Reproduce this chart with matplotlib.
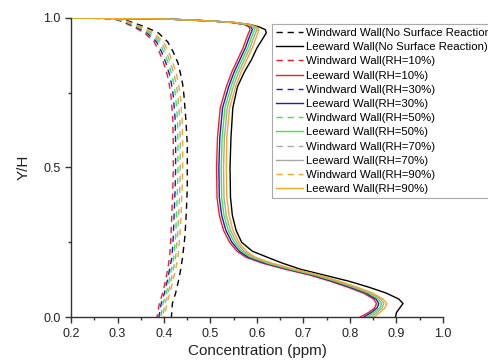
import numpy as np
import matplotlib.pyplot as plt
from matplotlib.ticker import MultipleLocator

plt.rcParams['font.family'] = ['Liberation Sans', 'DejaVu Sans']

# Y/H levels
y_lee = [1.0, 0.997, 0.99, 0.985, 0.978, 0.97, 0.961, 0.95, 0.93, 0.90, 0.86, 0.82,
         0.77, 0.70, 0.60, 0.50, 0.40, 0.34, 0.29, 0.25, 0.22, 0.20, 0.18, 0.16,
         0.14, 0.12, 0.10, 0.08, 0.06, 0.045, 0.03, 0.015, 0.0]
y_win = [1.0, 0.998, 0.989, 0.97, 0.95, 0.92, 0.886, 0.85, 0.81, 0.78, 0.74, 0.70,
         0.66, 0.58, 0.50, 0.43, 0.35, 0.27, 0.20, 0.16, 0.12, 0.08, 0.045, 0.0]

# concentration (ppm), windward walls
win_none = [0.2, 0.30, 0.325, 0.360, 0.388, 0.408, 0.420, 0.430, 0.436, 0.440, 0.443, 0.445,
            0.447, 0.450, 0.450, 0.450, 0.448, 0.445, 0.440, 0.436, 0.431, 0.425, 0.418, 0.416]
win_rh10 = [0.2, 0.290, 0.308, 0.335, 0.358, 0.379, 0.390, 0.399, 0.407, 0.411, 0.415, 0.417,
            0.419, 0.420, 0.420, 0.419, 0.417, 0.415, 0.412, 0.408, 0.403, 0.397, 0.390, 0.385]
win_rh30 = [0.2, 0.292, 0.311, 0.339, 0.363, 0.384, 0.395, 0.404, 0.412, 0.416, 0.420, 0.422,
            0.424, 0.425, 0.425, 0.424, 0.422, 0.420, 0.417, 0.412, 0.407, 0.401, 0.394, 0.389]
win_rh50 = [0.2, 0.294, 0.314, 0.343, 0.368, 0.389, 0.400, 0.409, 0.417, 0.421, 0.425, 0.427,
            0.429, 0.430, 0.430, 0.429, 0.427, 0.425, 0.421, 0.416, 0.411, 0.405, 0.398, 0.393]
win_rh70 = [0.2, 0.296, 0.317, 0.347, 0.373, 0.394, 0.405, 0.414, 0.422, 0.426, 0.430, 0.432,
            0.434, 0.435, 0.435, 0.434, 0.432, 0.429, 0.425, 0.420, 0.415, 0.409, 0.402, 0.397]
win_rh90 = [0.2, 0.298, 0.320, 0.351, 0.378, 0.399, 0.410, 0.419, 0.427, 0.431, 0.435, 0.437,
            0.439, 0.440, 0.440, 0.439, 0.437, 0.434, 0.430, 0.425, 0.419, 0.413, 0.406, 0.401]

# concentration (ppm), leeward walls
lee_none = [0.2, 0.40, 0.50, 0.550, 0.585, 0.605, 0.618, 0.620, 0.612, 0.600, 0.588, 0.573,
            0.558, 0.548, 0.544, 0.542, 0.543, 0.547, 0.555, 0.567, 0.590, 0.622, 0.655, 0.693,
            0.745, 0.797, 0.840, 0.878, 0.905, 0.914, 0.907, 0.900, 0.898]
lee_rh10 = [0.2, 0.40, 0.50, 0.545, 0.573, 0.583, 0.585, 0.582, 0.577, 0.570, 0.558, 0.546,
            0.534, 0.521, 0.515, 0.513, 0.514, 0.519, 0.528, 0.541, 0.557, 0.576, 0.612, 0.660,
            0.714, 0.757, 0.795, 0.829, 0.851, 0.857, 0.853, 0.840, 0.822]
lee_rh30 = [0.2, 0.40, 0.50, 0.547, 0.576, 0.587, 0.590, 0.587, 0.582, 0.575, 0.563, 0.551,
            0.539, 0.526, 0.520, 0.518, 0.519, 0.524, 0.533, 0.546, 0.562, 0.581, 0.617, 0.665,
            0.719, 0.762, 0.800, 0.834, 0.856, 0.862, 0.858, 0.846, 0.830]
lee_rh50 = [0.2, 0.40, 0.50, 0.549, 0.579, 0.591, 0.595, 0.592, 0.587, 0.580, 0.568, 0.556,
            0.544, 0.531, 0.525, 0.523, 0.524, 0.529, 0.538, 0.551, 0.567, 0.586, 0.622, 0.670,
            0.724, 0.767, 0.805, 0.839, 0.861, 0.868, 0.864, 0.852, 0.838]
lee_rh70 = [0.2, 0.40, 0.50, 0.551, 0.582, 0.595, 0.600, 0.597, 0.592, 0.585, 0.573, 0.561,
            0.549, 0.536, 0.530, 0.528, 0.529, 0.534, 0.543, 0.556, 0.572, 0.591, 0.627, 0.675,
            0.729, 0.772, 0.810, 0.844, 0.866, 0.873, 0.869, 0.858, 0.845]
lee_rh90 = [0.2, 0.40, 0.50, 0.553, 0.585, 0.599, 0.604, 0.602, 0.597, 0.590, 0.578, 0.566,
            0.554, 0.541, 0.535, 0.534, 0.535, 0.540, 0.548, 0.561, 0.577, 0.596, 0.632, 0.680,
            0.734, 0.777, 0.815, 0.849, 0.871, 0.879, 0.875, 0.864, 0.852]

cases = ["No Surface Reaction", "RH=10%", "RH=30%", "RH=50%", "RH=70%", "RH=90%"]
windward = [win_none, win_rh10, win_rh30, win_rh50, win_rh70, win_rh90]
leeward = [lee_none, lee_rh10, lee_rh30, lee_rh50, lee_rh70, lee_rh90]
colores = ["#000000", "#ff1a1a", "#1a1ad0", "#33ee33", "#a8a8a8", "#f5a623"]

fig = plt.figure(figsize=(4.89, 3.62), dpi=100)
ax = fig.add_axes([0.1452, 0.1243, 0.7607, 0.8260])

for caso, xw, xl, c in zip(cases, windward, leeward, colores):
    ax.plot(xw, y_win, color=c, lw=1.0, dashes=(4.5, 3.5), label=f"Windward Wall({caso})")
    ax.plot(xl, y_lee, color=c, lw=1.0, label=f"Leeward Wall({caso})")

ax.set_xlim(0.2, 1.0)
ax.set_ylim(0.0, 1.0)
ax.xaxis.set_major_locator(MultipleLocator(0.1))
ax.xaxis.set_minor_locator(MultipleLocator(0.05))
ax.yaxis.set_major_locator(MultipleLocator(0.5))
ax.yaxis.set_minor_locator(MultipleLocator(0.25))
ax.spines["top"].set_visible(False)
ax.spines["right"].set_visible(False)
for s in ["left", "bottom"]:
    ax.spines[s].set_color("#333333")
    ax.spines[s].set_linewidth(1.0)
ax.tick_params(which="major", length=4, width=1.0, color="#333333", labelsize=9, labelcolor="#222222")
ax.tick_params(axis="x", which="major", pad=4)
ax.tick_params(which="minor", length=2.5, width=1.0, color="#333333")
ax.set_xlabel("Concentration (ppm)", fontsize=11, color="#222222", labelpad=3)
ax.set_ylabel("Y/H", fontsize=11, color="#222222", labelpad=9)

leg = fig.legend(loc="upper left", bbox_to_anchor=(272 / 489, 1 - 24 / 362),
                 fontsize=8.2, frameon=True, fancybox=False, framealpha=1,
                 edgecolor="#aaaaaa", handlelength=2.4, handletextpad=0.25,
                 labelspacing=0.37, borderpad=0.35, borderaxespad=0)
leg.get_frame().set_linewidth(0.8)

fig.savefig("out.png", dpi=100)
